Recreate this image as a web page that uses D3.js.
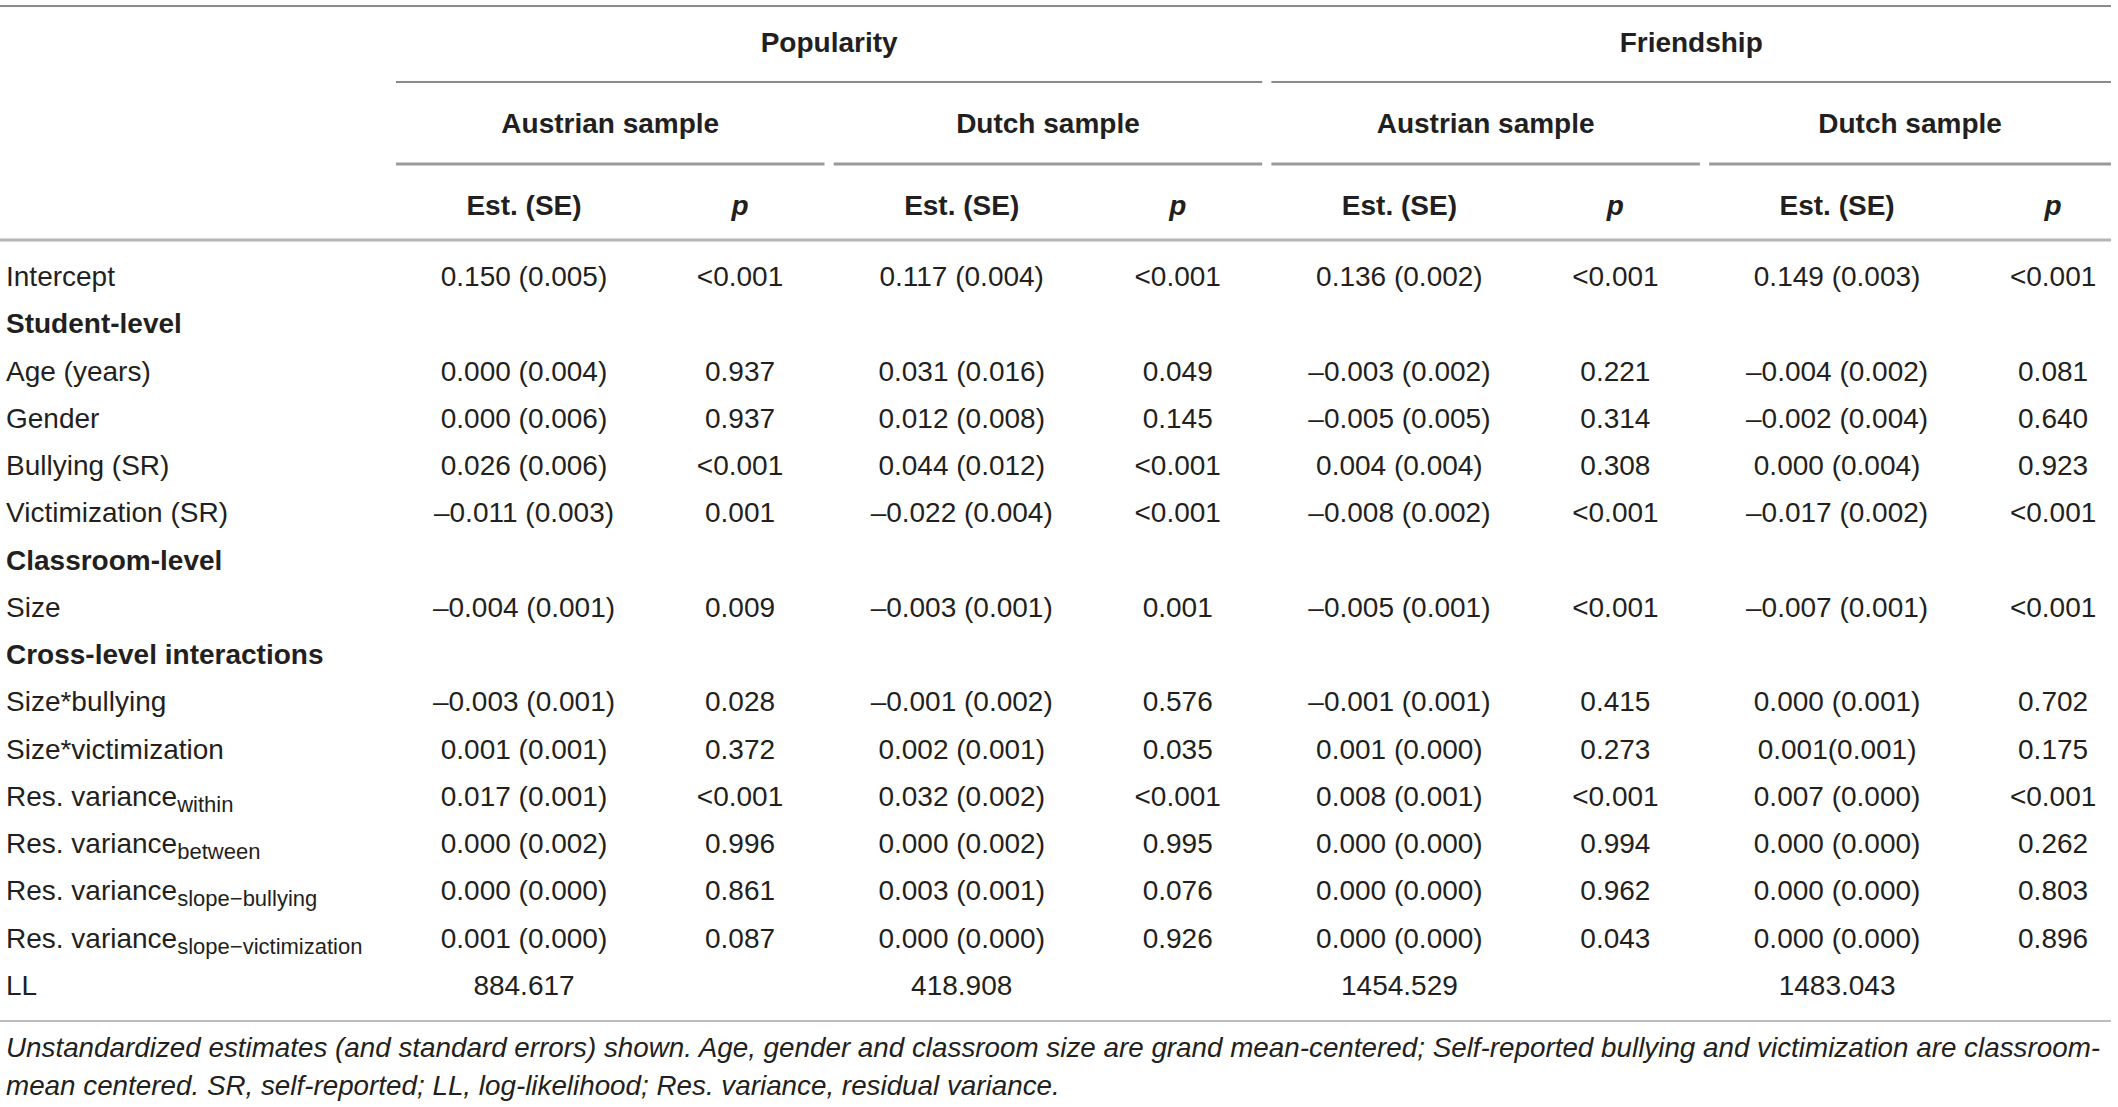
<!DOCTYPE html>
<html>
<head>
<meta charset="utf-8">
<script src="https://cdn.jsdelivr.net/npm/d3@7"></script>
<style>
  body { margin: 0; background: #fff; }
  svg { display: block; }
  text { font-family: "Liberation Sans", Arial, Helvetica, sans-serif; fill: #231f20; }
</style>
</head>
<body>
<div id="chart"></div>
<script>
// table content
const groups = ["Popularity", "Friendship"];
const samples = ["Austrian sample", "Dutch sample", "Austrian sample", "Dutch sample"];
const colHeads = ["Est. (SE)", "p"];

const rowLabels = ["Intercept", "Student-level", "Age (years)", "Gender", "Bullying (SR)",
  "Victimization (SR)", "Classroom-level", "Size", "Cross-level interactions", "Size*bullying",
  "Size*victimization", "Res. variance", "Res. variance", "Res. variance", "Res. variance", "LL"];
const rowSubs = ["", "", "", "", "", "", "", "", "", "", "",
  "within", "between", "slope\u2212bullying", "slope\u2212victimization", ""];
const sectionRows = ["Student-level", "Classroom-level", "Cross-level interactions"];

// one array per column, "" where a cell is empty
const popAustEst = ["0.150 (0.005)", "", "0.000 (0.004)", "0.000 (0.006)", "0.026 (0.006)", "–0.011 (0.003)", "", "–0.004 (0.001)", "", "–0.003 (0.001)", "0.001 (0.001)", "0.017 (0.001)", "0.000 (0.002)", "0.000 (0.000)", "0.001 (0.000)", "884.617"];
const popAustP   = ["<0.001", "", "0.937", "0.937", "<0.001", "0.001", "", "0.009", "", "0.028", "0.372", "<0.001", "0.996", "0.861", "0.087", ""];
const popDutchEst = ["0.117 (0.004)", "", "0.031 (0.016)", "0.012 (0.008)", "0.044 (0.012)", "–0.022 (0.004)", "", "–0.003 (0.001)", "", "–0.001 (0.002)", "0.002 (0.001)", "0.032 (0.002)", "0.000 (0.002)", "0.003 (0.001)", "0.000 (0.000)", "418.908"];
const popDutchP  = ["<0.001", "", "0.049", "0.145", "<0.001", "<0.001", "", "0.001", "", "0.576", "0.035", "<0.001", "0.995", "0.076", "0.926", ""];
const frAustEst  = ["0.136 (0.002)", "", "–0.003 (0.002)", "–0.005 (0.005)", "0.004 (0.004)", "–0.008 (0.002)", "", "–0.005 (0.001)", "", "–0.001 (0.001)", "0.001 (0.000)", "0.008 (0.001)", "0.000 (0.000)", "0.000 (0.000)", "0.000 (0.000)", "1454.529"];
const frAustP    = ["<0.001", "", "0.221", "0.314", "0.308", "<0.001", "", "<0.001", "", "0.415", "0.273", "<0.001", "0.994", "0.962", "0.043", ""];
const frDutchEst = ["0.149 (0.003)", "", "–0.004 (0.002)", "–0.002 (0.004)", "0.000 (0.004)", "–0.017 (0.002)", "", "–0.007 (0.001)", "", "0.000 (0.001)", "0.001(0.001)", "0.007 (0.000)", "0.000 (0.000)", "0.000 (0.000)", "0.000 (0.000)", "1483.043"];
const frDutchP   = ["<0.001", "", "0.081", "0.640", "0.923", "<0.001", "", "<0.001", "", "0.702", "0.175", "<0.001", "0.262", "0.803", "0.896", ""];

const footnote = [
  "Unstandardized estimates (and standard errors) shown. Age, gender and classroom size are grand mean-centered; Self-reported bullying and victimization are classroom-",
  "mean centered. SR, self-reported; LL, log-likelihood; Res. variance, residual variance."
];

const WIDTH = 2118, HEIGHT = 1107;
const LEFT = 396, RIGHT = 2111; // table body edges
const STEP = 437.7;            // width of one sample block incl. gap
const FONT = 28;

const svg = d3.select("#chart").append("svg")
  .attr("width", WIDTH)
  .attr("height", HEIGHT);

// four sample blocks, two per group
const sampleX = d3.scaleBand()
  .domain(d3.range(samples.length))
  .range([LEFT, LEFT + STEP * (samples.length - 0.021)])
  .paddingInner(0.021);
// inside a block: estimate column and p column
const colX = d3.scaleOrdinal().domain([0, 1]).range([128, 344]);

const y = d3.scaleLinear()
  .domain([0, rowLabels.length - 1])
  .range([276, 985]);

const columns = [popAustEst, popAustP, popDutchEst, popDutchP, frAustEst, frAustP, frDutchEst, frDutchP];

function hline(x1, x2, yy, color, w) {
  svg.append("line")
    .attr("x1", x1).attr("x2", Math.min(x2, RIGHT))
    .attr("y1", yy).attr("y2", yy)
    .attr("stroke", color).attr("stroke-width", w);
}

// rules
hline(0, RIGHT, 6, "#8a8a8a", 2);
groups.forEach((g, i) => {
  const x1 = sampleX(i * 2), x2 = sampleX(i * 2 + 1) + sampleX.bandwidth();
  hline(x1, x2, 82, "#8a8a8a", 2);
});
samples.forEach((s, i) => hline(sampleX(i), sampleX(i) + sampleX.bandwidth(), 164, "#9a9a9a", 3));
hline(0, RIGHT, 240, "#b4b4b4", 3);
hline(0, RIGHT, 1021, "#bdbdbd", 2);

// group titles
groups.forEach((g, i) => {
  const x1 = sampleX(i * 2), x2 = Math.min(sampleX(i * 2 + 1) + sampleX.bandwidth(), RIGHT);
  svg.append("text")
    .attr("x", (x1 + x2) / 2).attr("y", 52)
    .attr("text-anchor", "middle")
    .attr("font-size", FONT).attr("font-weight", "bold")
    .text(g);
});

// sample titles and column heads
samples.forEach((s, i) => {
  const x1 = sampleX(i), x2 = Math.min(sampleX(i) + sampleX.bandwidth(), RIGHT);
  svg.append("text")
    .attr("x", (x1 + x2) / 2).attr("y", 133)
    .attr("text-anchor", "middle")
    .attr("font-size", FONT).attr("font-weight", "bold")
    .text(s);
  colHeads.forEach((h, j) => {
    svg.append("text")
      .attr("x", sampleX(i) + colX(j)).attr("y", 215)
      .attr("text-anchor", "middle")
      .attr("font-size", FONT).attr("font-weight", "bold")
      .attr("font-style", j === 1 ? "italic" : "normal")
      .text(h);
  });
});

// row labels
rowLabels.forEach((lab, r) => {
  const t = svg.append("text")
    .attr("x", 6).attr("y", y(r) + 10)
    .attr("font-size", FONT)
    .attr("font-weight", sectionRows.includes(lab) ? "bold" : "normal");
  t.append("tspan").text(lab);
  if (rowSubs[r]) {
    t.append("tspan")
      .attr("font-size", 22)
      .attr("dy", 6)
      .text(rowSubs[r]);
  }
});

// cells
columns.forEach((col, c) => {
  const block = Math.floor(c / 2), j = c % 2;
  svg.append("g").selectAll("text")
    .data(col)
    .join("text")
      .attr("x", sampleX(block) + colX(j))
      .attr("y", (d, r) => y(r) + 10)
      .attr("text-anchor", "middle")
      .attr("font-size", FONT)
      .text(d => d);
});

// footnote
footnote.forEach((line, i) => {
  svg.append("text")
    .attr("x", 6).attr("y", 1057 + i * 38)
    .attr("font-size", 27.8)
    .attr("font-style", "italic")
    .text(line);
});
</script>
</body>
</html>
